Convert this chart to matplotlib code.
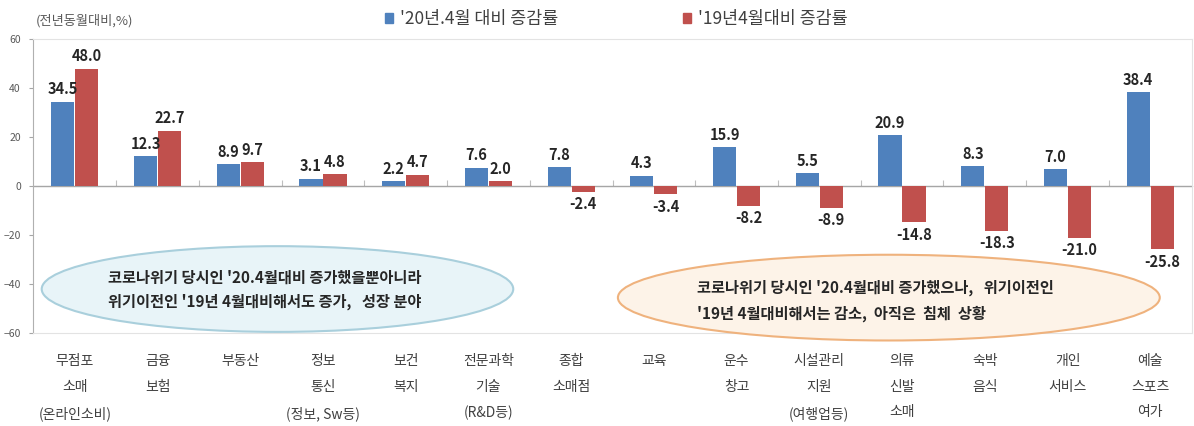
import matplotlib.pyplot as plt
import numpy as np
from matplotlib.patches import Ellipse, Patch

plt.rcParams['font.family'] = ['Noto Sans CJK KR', 'DejaVu Sans']

categories = ["무점포\n소매\n(온라인소비)", "금융\n보험", "부동산", "정보\n통신\n(정보, Sw등)",
              "보건\n복지", "전문과학\n기술\n(R&D등)", "종합\n소매점", "교육", "운수\n창고",
              "시설관리\n지원\n(여행업등)", "의류\n신발\n소매", "숙박\n음식", "개인\n서비스",
              "예술\n스포츠\n여가"]
vs_2020 = [34.5, 12.3, 8.9, 3.1, 2.2, 7.6, 7.8, 4.3, 15.9, 5.5, 20.9, 8.3, 7.0, 38.4]
vs_2019 = [48.0, 22.7, 9.7, 4.8, 4.7, 2.0, -2.4, -3.4, -8.2, -8.9, -14.8, -18.3, -21.0, -25.8]
series_names = ["'20년.4월 대비 증감률", "'19년4월대비 증감률"]
yticks = [-60, -40, -20, 0, 20, 40, 60]
note_left = "코로나위기 당시인 '20.4월대비 증가했을뿐아니라\n위기이전인 '19년 4월대비해서도 증가,   성장 분야"
note_right = "코로나위기 당시인 '20.4월대비 증가했으나,   위기이전인\n'19년 4월대비해서는 감소,  아직은  침체  상황"

blue = "#4f81bd"
red = "#c0504d"

fig = plt.figure(figsize=(11.94, 4.26), dpi=100)
ax = fig.add_axes([0.028, 0.218, 0.97, 0.690])

x = np.arange(len(categories))
w = 0.28
off = 0.145
b1 = ax.bar(x - off, vs_2020, w, color=blue, zorder=3)
b2 = ax.bar(x + off, vs_2019, w, color=red, zorder=3)

for bars, vals in ((b1, vs_2020), (b2, vs_2019)):
    for rect, v in zip(bars, vals):
        cx = rect.get_x() + rect.get_width() / 2
        if v >= 0:
            ax.annotate(f"{v:.1f}", (cx, v), xytext=(0, 3), textcoords="offset points",
                        ha="center", va="bottom", fontsize=10.5, fontweight="bold", color="#262626")
        else:
            ax.annotate(f"{v:.1f}", (cx, v), xytext=(0, -3), textcoords="offset points",
                        ha="center", va="top", fontsize=10.5, fontweight="bold", color="#262626")

ax.set_ylim(-60, 60)
ax.set_xlim(-0.5, len(categories) - 0.5)
ax.set_yticks(yticks)
ax.tick_params(axis="y", labelsize=7.5, labelcolor="#595959", color="#a6a6a6", length=3, pad=6)
ax.set_xticks(x)
ax.set_xticklabels(categories, fontsize=10, color="#404040", linespacing=2.05)
ax.tick_params(axis="x", length=0, pad=15)
for s in ("top", "bottom", "right"):
    ax.spines[s].set_color("#e3e3e3")
ax.spines["left"].set_color("#b0b0b0")
ax.axhline(0, color="#a6a6a6", lw=0.8, zorder=2)

# small category separators on the zero line
sec = ax.secondary_xaxis(0.5)
sec.set_xticks(x[:-1] + 0.5)
sec.set_xticklabels([])
sec.tick_params(length=4, color="#bfbfbf", direction="out")
sec.spines["bottom"].set_visible(False)

# annotation ellipses
e1 = Ellipse((2.45, -42.0), 5.7, 35, facecolor="#e8f4f8", edgecolor="#a9cfdc", lw=1.5,
             zorder=4, clip_on=False)
e2 = Ellipse((9.84, -45.5), 6.55, 35, facecolor="#fdf3e8", edgecolor="#efb27d", lw=1.5,
             zorder=4, clip_on=False)
ax.add_patch(e1)
ax.add_patch(e2)
ax.text(0.4, -42.3, note_left, fontsize=11, fontweight="bold", color="#262626",
        ha="left", va="center", linespacing=1.65, zorder=5)
ax.text(7.52, -46.8, note_right, fontsize=11, fontweight="bold", color="#262626",
        ha="left", va="center", linespacing=1.65, zorder=5)

fig.text(0.03, 0.952, "(전년동월대비,%)", fontsize=9.5, color="#595959", ha="left", va="center")

handles = [Patch(color=blue), Patch(color=red)]
fig.legend(handles, series_names, loc="center", bbox_to_anchor=(0.516, 0.955), ncol=2,
           frameon=False, fontsize=12.5, handlelength=0.45, handleheight=0.45,
           handletextpad=0.4, columnspacing=7.2, labelcolor="#404040")

fig.savefig("out.png", dpi=100)
